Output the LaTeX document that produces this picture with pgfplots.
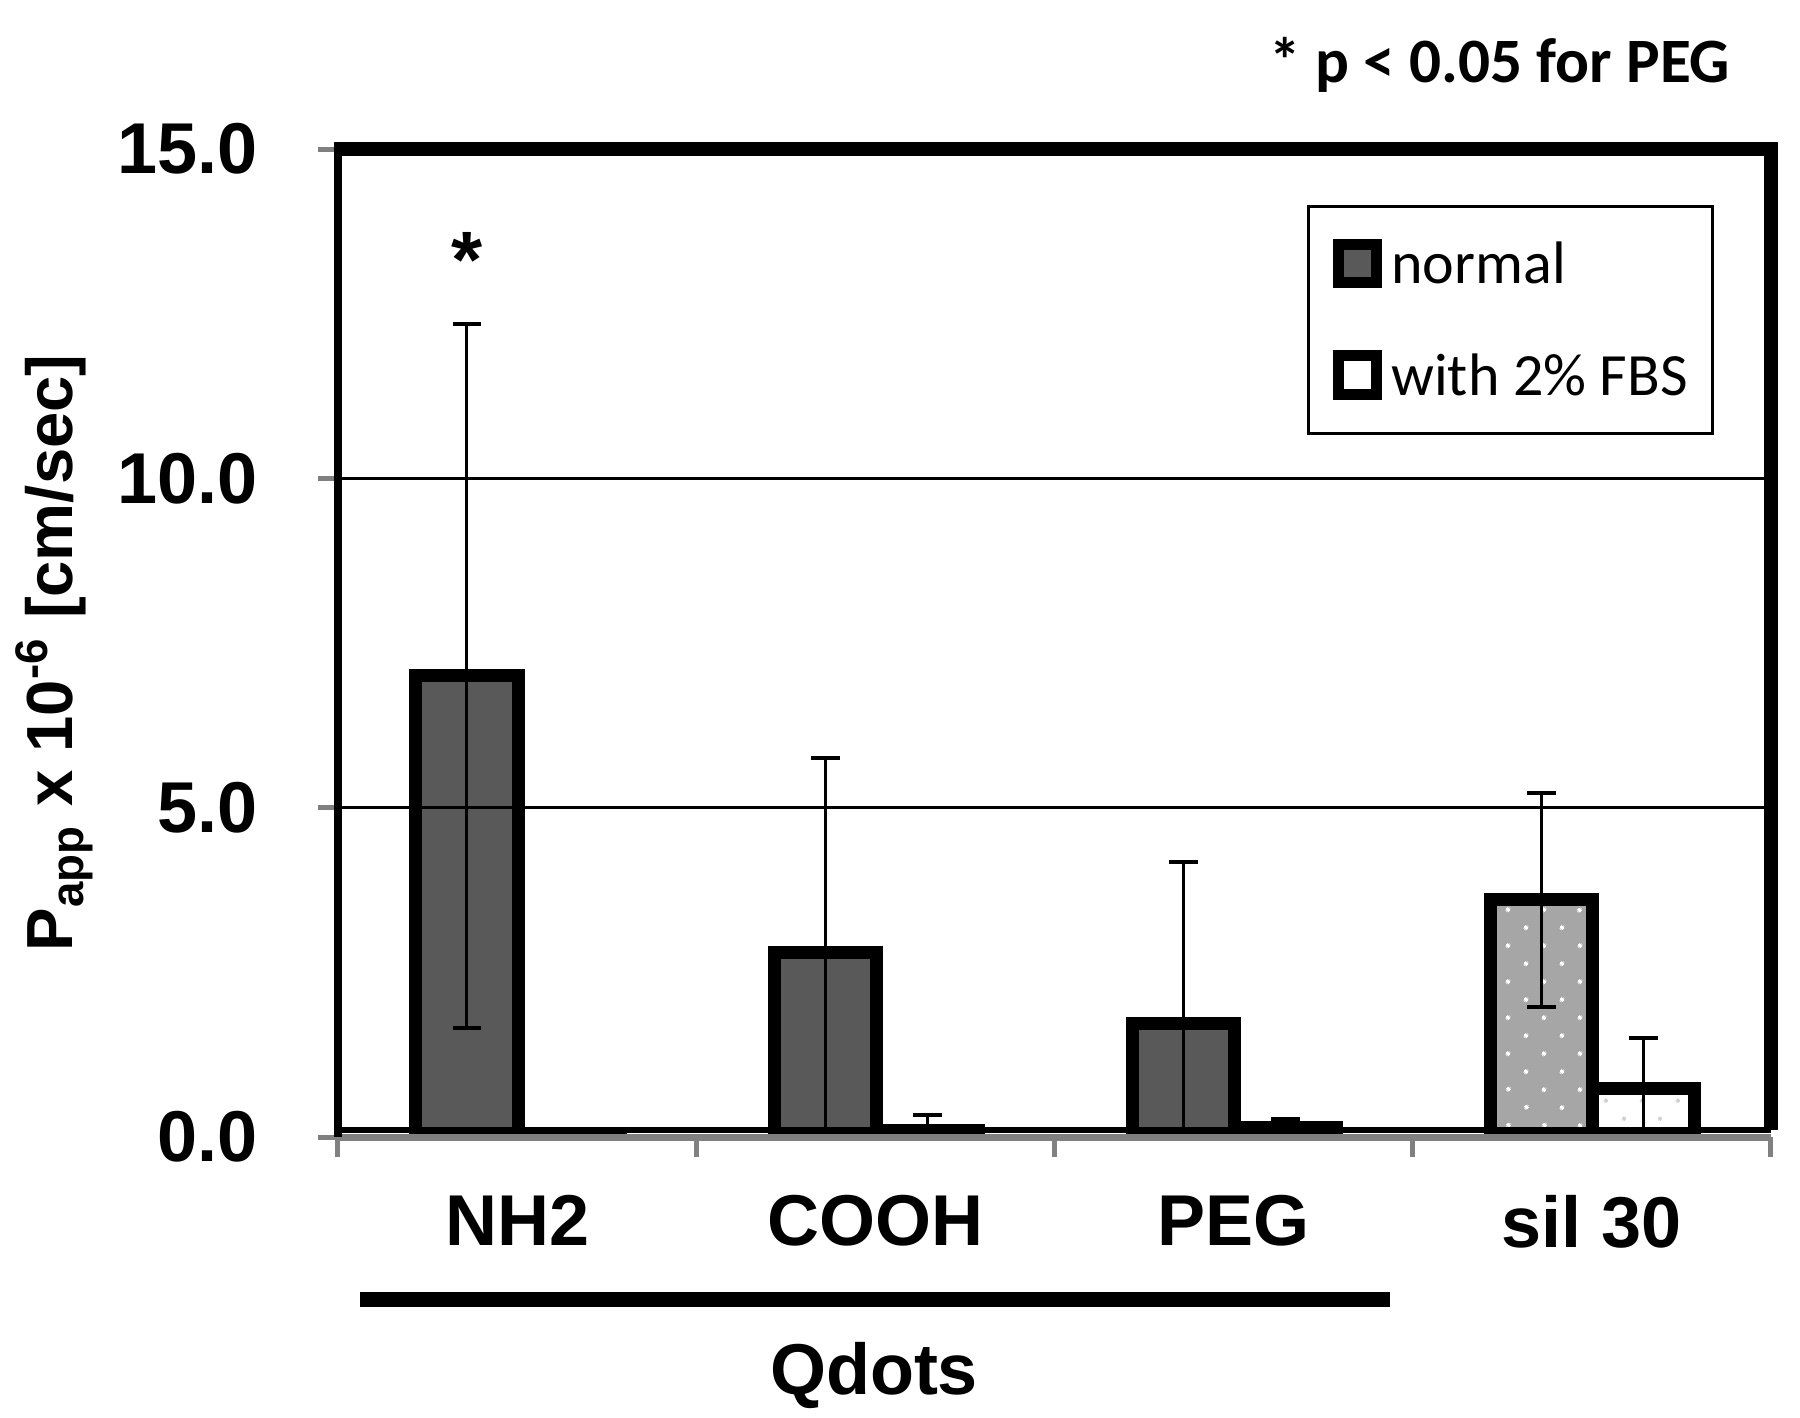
\documentclass[border=0pt]{standalone}
\usepackage{fontspec}
\setmainfont{Liberation Sans}
\newfontfamily\carlito{Carlito}
\usepackage{pgfplots}
\usepackage{pgfplotstable}
\pgfplotsset{compat=1.18}
\usetikzlibrary{patterns.meta}

\definecolor{darkbar}{HTML}{595959}
\definecolor{lightbar}{HTML}{A6A6A6}
\definecolor{axgray}{HTML}{808080}
\definecolor{dotgray}{HTML}{D0D0D0}

% normal (Qdots), positions: category index - 0.14
\pgfplotstableread{
x     y     err
-0.14 7.00  5.35
0.86  2.80  2.95
1.86  1.73  2.45
}\normaltab
% normal (sil 30)
\pgfplotstableread{
x     y     err
2.86  3.60  1.62
}\siltab
% with 2% FBS
\pgfplotstableread{
x      y     err
0.145  0.06  0.02
1.145  0.10  0.23
2.145  0.15  0.12
3.145  0.73  0.77
}\fbstab

\newcommand{\bigbf}{\bfseries\fontsize{18}{21}\selectfont}
% legend marker: square with thick black frame
\newcommand{\legmark}[1]{\raisebox{1.6pt}{\setlength{\fboxsep}{0pt}\setlength{\fboxrule}{2.75pt}\fcolorbox{black}{#1}{\rule{0pt}{6.85pt}\hspace{6.85pt}}}\hspace{2.3pt}}

\begin{document}
\begin{tikzpicture}
\begin{axis}[
  name=ax,
  at={(0,0)}, anchor=south west,
  scale only axis,
  width=358.25pt, height=247pt,
  xmin=-0.5, xmax=3.5,
  ymin=0, ymax=15,
  axis x line*=bottom,
  axis y line*=left,
  x axis line style={axgray, line width=1.75pt, -},
  y axis line style={black, line width=2pt, -},
  tick align=outside,
  major tick length=5pt,
  xtick={-0.5,0.5,1.5,2.5,3.5},
  xticklabels={},
  x tick style={axgray, line width=1.25pt},
  extra x ticks={0,1,2,3},
  extra x tick labels={NH2,COOH,PEG,sil 30},
  extra x tick style={major tick length=0pt, grid=none,
     xticklabel style={font=\bigbf, yshift=-11pt}},
  ytick={0,5,10,15},
  y tick style={axgray, line width=1.25pt},
  yticklabel style={font=\bigbf, inner sep=0pt, xshift=-15pt},
  /pgf/number format/assume math mode=true,
  /pgf/number format/.cd, fixed, fixed zerofill, precision=1, /pgfplots/.cd,
  ymajorgrids,
  grid style={black, line width=0.75pt},
  ylabel={P\textsubscript{app} x 10\textsuperscript{-6} [cm/sec]},
  ylabel style={font=\bfseries\fontsize{16.3}{19}\selectfont, at={(axis description cs:-0.185,0.49)}, anchor=base},
  axis on top,
  legend style={at={(0.96,0.943)}, anchor=north east, draw=black, line width=0.75pt,
     font=\carlito\fontsize{15}{18}\selectfont, row sep=11.2pt, column sep=0pt,
     inner xsep=4.1pt, inner ysep=6pt},
  legend cell align=left,
  legend image code/.code={},
]
\addplot[ybar, bar width=0.285, bar shift=0pt, fill=darkbar, draw=black, line width=3.25pt,
  error bars/.cd, y dir=both, y explicit,
  error bar style={line width=0.75pt, black},
  error mark options={line width=1pt, black, mark size=3.6pt, rotate=90}]
  table[x=x, y=y, y error=err] {\normaltab};
\addlegendentry{\legmark{darkbar}normal}
\addplot[ybar, bar width=0.285, bar shift=0pt, fill=white, draw=black, line width=3.25pt,
  postaction={pattern={Dots[distance=6.5pt, radius=0.55pt, angle=45]}, pattern color=dotgray},
  error bars/.cd, y dir=both, y explicit,
  error bar style={line width=0.75pt, black},
  error mark options={line width=1pt, black, mark size=3.6pt, rotate=90}]
  table[x=x, y=y, y error=err] {\fbstab};
\addlegendentry{\legmark{white}with 2\% FBS}
\addplot[ybar, forget plot, bar width=0.285, bar shift=0pt, fill=lightbar, draw=black, line width=3.25pt,
  postaction={pattern={Dots[distance=6.5pt, radius=0.6pt, angle=45]}, pattern color=white},
  error bars/.cd, y dir=both, y explicit,
  error bar style={line width=0.75pt, black},
  error mark options={line width=1pt, black, mark size=3.6pt, rotate=90}]
  table[x=x, y=y, y error=err] {\siltab};
\node[font=\bfseries\fontsize{20}{24}\selectfont, inner sep=0pt, anchor=north] at (axis cs:-0.14,13.74) {*};
\end{axis}
% frame: thick top and right, black inner line at bottom
\draw[black, line width=3.5pt] ([xshift=-1pt]ax.north west) -- (ax.north east) -- ([yshift=1.75pt]ax.south east);
\draw[black, line width=1.5pt] ([yshift=1.75pt]ax.south west) -- ([yshift=1.75pt]ax.south east);
% group bracket and labels
\draw[black, line width=3.75pt] ([shift={(5.5pt,-40.5pt)}]ax.south west) -- ([shift={(263pt,-40.5pt)}]ax.south west);
\node[font=\bigbf, anchor=base] at ([shift={(134pt,-64.25pt)}]ax.south west) {Qdots};
\node[font=\carlito\bfseries\fontsize{15.8}{19}\selectfont, anchor=base east, inner sep=0pt] at ([shift={(348.25pt,263.5pt)}]ax.south west) {* p < 0.05 for PEG};
\pgfresetboundingbox
\path[use as bounding box] ([shift={(-84.5pt,-70pt)}]ax.south west) rectangle ([shift={(365.5pt,284.25pt)}]ax.south west);
\end{tikzpicture}
\end{document}
